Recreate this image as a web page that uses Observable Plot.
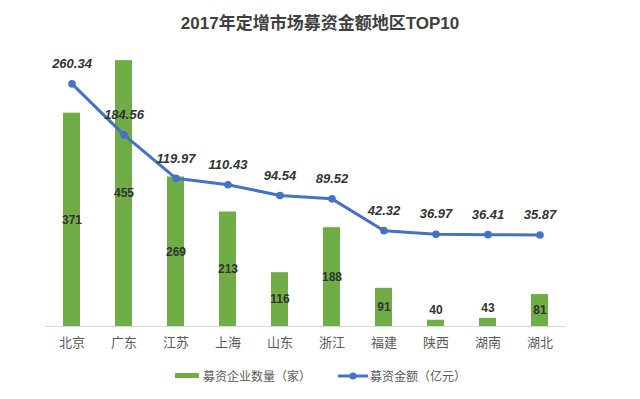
<!DOCTYPE html>
<html><head><meta charset="utf-8">
<script src="https://cdn.jsdelivr.net/npm/d3@7"></script>
<script src="https://cdn.jsdelivr.net/npm/@observablehq/plot@0.6"></script>
<style>
body{margin:0;background:#fff;}
#wrap{position:relative;width:640px;height:399px;overflow:hidden;font-family:"Liberation Sans","Noto Sans CJK SC",sans-serif;}
#title{position:absolute;left:0;top:12px;width:640px;text-align:center;font-size:17px;font-weight:bold;color:#404040;line-height:24px;}
#chart{position:absolute;left:0;top:40px;}
.legtxt{position:absolute;top:368px;font-size:12px;line-height:16px;color:#595959;font-family:"Noto Sans CJK SC",sans-serif;white-space:nowrap;}
.legsw{position:absolute;}
</style></head>
<body>
<div id="wrap">
  <div id="title">2017年定增市场募资金额地区TOP10</div>
  <div id="chart"></div>
  <div id="legend"></div>
</div>
<script>
const regions = ["北京","广东","江苏","上海","山东","浙江","福建","陕西","湖南","湖北"];
const companyCounts = [371,455,269,213,116,188,91,40,43,81];
const raisedAmounts = [260.34,184.56,119.97,110.43,94.54,89.52,42.32,36.97,36.41,35.87];
const seriesNames = ["募资企业数量（家）","募资金额（亿元）"];
const countDomain = [30,480];     // primary (bar) axis range
const amountDomain = [-100,318];  // secondary (line) axis range

const barColor = "#70AD47";
const lineColor = "#4472C4";

const data = regions.map((r,i)=>({region:r,count:companyCounts[i],amount:raisedAmounts[i]}));
// map secondary-axis values onto the primary y scale
const toPrimary = a => countDomain[0] + (a - amountDomain[0]) * (countDomain[1]-countDomain[0]) / (amountDomain[1]-amountDomain[0]);

const numFont = "Liberation Sans, Noto Sans CJK SC, sans-serif";

const chart = Plot.plot({
  width: 640,
  height: 330,
  marginTop: 4.5,
  marginBottom: 44,
  marginLeft: 45,
  marginRight: 74,
  style: {background:"transparent", fontFamily:"Noto Sans CJK SC, sans-serif", fontSize:"13px", color:"#595959"},
  x: {domain: regions, paddingInner: 0.68, paddingOuter: 0.34, label: null, tickSize: 0, tickPadding: 11},
  y: {domain: countDomain, axis: null},
  marks: [
    Plot.barY(data, {x:"region", y1: () => countDomain[0], y2:"count", fill: barColor}),
    Plot.ruleY([countDomain[0]], {stroke:"#d9d9d9", strokeWidth:1}),
    Plot.text(data.filter(d => d.count >= 60), {x:"region", y: d => (countDomain[0]+d.count)/2, text: d => String(d.count),
      fill:"#333333", fontWeight:"bold", fontSize:12, fontFamily:numFont}),
    Plot.text(data.filter(d => d.count < 60), {x:"region", y:"count", dy:-10, text: d => String(d.count),
      fill:"#333333", fontWeight:"bold", fontSize:12, fontFamily:numFont}),
    Plot.line(data, {x:"region", y: d => toPrimary(d.amount), stroke: lineColor, strokeWidth: 3, strokeLinejoin:"round", strokeLinecap:"round"}),
    Plot.dot(data, {x:"region", y: d => toPrimary(d.amount), r: 3.8, fill: lineColor, stroke: "none"}),
    Plot.text(data, {x:"region", y: d => toPrimary(d.amount), dy:-20, text: d => d.amount.toFixed(2),
      fill:"#333333", fontWeight:"bold", fontStyle:"italic", fontSize:13, fontFamily:numFont})
  ]
});
document.getElementById("chart").appendChild(chart);

// legend
const legend = document.getElementById("legend");
legend.innerHTML =
  `<svg class="legsw" style="left:175px;top:373px" width="25" height="6"><rect x="0" y="0" width="24" height="5" fill="${barColor}"/></svg>` +
  `<div class="legtxt" style="left:203px">${seriesNames[0]}</div>` +
  `<svg class="legsw" style="left:337px;top:371px" width="32" height="10"><line x1="1" y1="5" x2="31" y2="5" stroke="${lineColor}" stroke-width="3"/><circle cx="16" cy="5" r="3.5" fill="${lineColor}"/></svg>` +
  `<div class="legtxt" style="left:370px">${seriesNames[1]}</div>`;
</script>
</body></html>
